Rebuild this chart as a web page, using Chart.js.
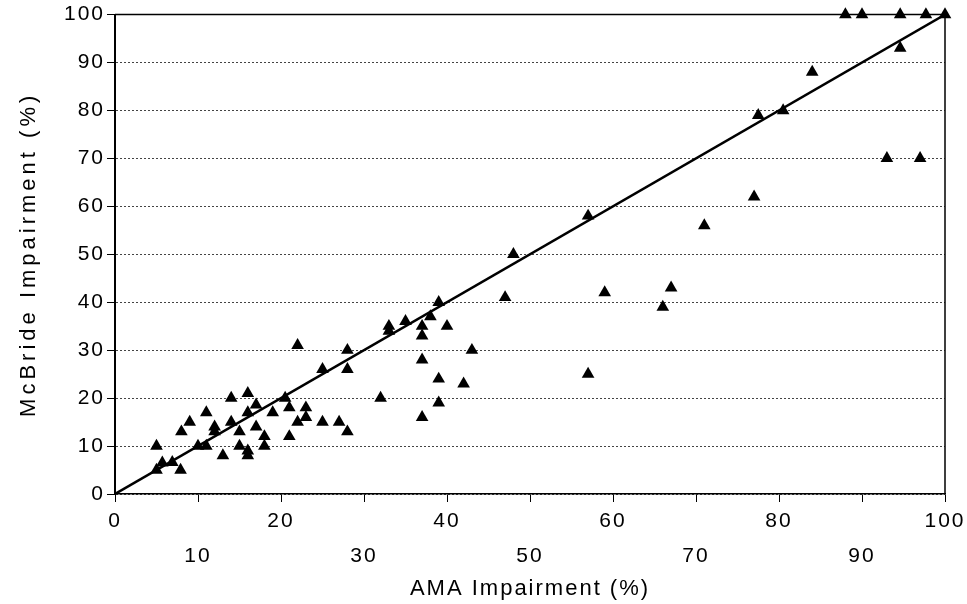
<!DOCTYPE html>
<html>
<head>
<meta charset="utf-8">
<script src="https://cdn.jsdelivr.net/npm/chart.js@4.4.1/dist/chart.umd.min.js"></script>
<style>
  body { margin: 0; background: #fff; }
  canvas { display: block; }
</style>
</head>
<body>
<canvas id="myChart" width="967" height="604"></canvas>
<script>
'use strict';

// AMA vs McBride impairment
let amaX = [
  5, 5, 5.7, 6.9, 7.9, 8, 9, 10, 11, 11,
  12, 12, 13, 14, 14, 15, 15, 16, 16, 16,
  16, 17, 17, 18, 18, 19, 20.5, 21, 21, 22,
  23, 23, 25, 27, 28, 22, 25, 28, 28, 32,
  33, 33, 35, 37, 37, 38, 39, 40, 37, 39,
  42, 39, 37, 43, 47, 48, 57, 57, 59, 66,
  67, 71, 77, 77.5, 80.5, 84, 88, 90, 94.6, 97.7,
  100, 94.6, 93, 97];
let mcbrideY = [
  10, 5, 6.5, 6.6, 5, 13, 15, 10, 10, 17,
  14, 13, 8, 15, 20, 13, 10, 21, 17, 9,
  8, 18.6, 14, 12, 10, 17, 20, 18, 12, 15,
  18, 16, 15, 15, 13, 31, 26, 30, 26, 20,
  35, 34, 36, 35, 33, 37, 40, 35, 28, 24,
  23, 19, 16, 30, 41, 50, 58, 25, 42, 39,
  43, 56, 62, 79, 80, 88, 100, 100, 100, 100,
  100, 93, 70, 70];

// line of equality
let fitX = [0, 100];
let fitY = [0, 100];

let tickStep = 10;
let fontFamily = '"Liberation Sans", Arial, sans-serif';

let points = [];
for (let i = 0; i < amaX.length; i++) {
  points.push({ x: amaX[i], y: mcbrideY[i] });
}
let linePoints = [];
for (let i = 0; i < fitX.length; i++) {
  linePoints.push({ x: fitX[i], y: fitY[i] });
}

// wide letter spacing like the scan, and the closed plot frame
const scanLook = {
  id: 'scanLook',
  afterLayout(chart) {
    const yScale = chart.scales.y;
    if (!yScale.spacedTitle) {
      const orig = yScale.drawTitle;
      yScale.drawTitle = function () {
        const old = this.ctx.letterSpacing;
        this.ctx.letterSpacing = '4px';
        orig.call(this);
        this.ctx.letterSpacing = old;
      };
      yScale.spacedTitle = true;
    }
  },
  beforeDraw(chart) {
    chart.ctx.letterSpacing = '2px';
  },
  afterDraw(chart) {
    const ctx = chart.ctx;
    const a = chart.chartArea;
    ctx.save();
    ctx.strokeStyle = '#000';
    ctx.lineWidth = 1.5;
    ctx.beginPath();
    ctx.moveTo(a.left, a.top);
    ctx.lineTo(a.right, a.top);
    ctx.lineTo(a.right, a.bottom);
    ctx.stroke();
    ctx.restore();
    ctx.letterSpacing = '0px';
  }
};

let ctx = document.getElementById('myChart').getContext('2d');
let myChart = new Chart(ctx, {
  type: 'scatter',
  data: {
    datasets: [{
      label: 'patients',
      data: points,
      pointStyle: 'triangle',
      pointRadius: 7.3,
      backgroundColor: '#000',
      borderColor: '#000',
      borderWidth: 0,
      clip: false
    }, {
      type: 'line',
      label: 'equality',
      data: linePoints,
      borderColor: '#000',
      borderWidth: 2.5,
      pointRadius: 0,
      fill: false
    }]
  },
  options: {
    responsive: false,
    animation: false,
    devicePixelRatio: 1,
    layout: { padding: { top: 14, right: 22, bottom: 0, left: 0 } },
    plugins: {
      legend: { display: false },
      tooltip: { enabled: false }
    },
    scales: {
      x: {
        type: 'linear',
        min: 0,
        max: 100,
        afterFit: (scale) => { scale.height = 110; },
        ticks: {
          stepSize: tickStep,
          autoSkip: false,
          maxRotation: 0,
          color: '#000',
          padding: 2,
          font: { family: fontFamily, size: 21, lineHeight: 1.67 },
          callback: (v) => ((v / tickStep) % 2 ? ['', String(v)] : String(v))
        },
        grid: { drawOnChartArea: false, tickLength: 8, color: '#000' },
        border: { color: '#000', width: 1.5 },
        title: {
          display: true,
          text: 'AMA Impairment (%)',
          color: '#000',
          font: { family: fontFamily, size: 22 },
          padding: { top: 0, bottom: 2 }
        }
      },
      y: {
        min: 0,
        max: 100,
        afterFit: (scale) => { scale.width = 115; },
        ticks: {
          stepSize: tickStep,
          color: '#000',
          padding: 2,
          font: { family: fontFamily, size: 21 }
        },
        grid: { color: '#444', lineWidth: 1, tickColor: '#000', tickLength: 8 },
        border: { color: '#000', width: 2, dash: [2, 2] },
        title: {
          display: true,
          text: 'McBride Impairment (%)',
          color: '#000',
          font: { family: fontFamily, size: 22 },
          padding: { top: 16, bottom: 0 }
        }
      }
    }
  },
  plugins: [scanLook]
});
</script>
</body>
</html>
